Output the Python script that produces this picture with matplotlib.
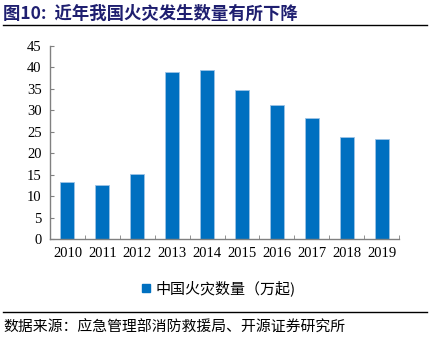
import matplotlib.pyplot as plt
import numpy as np
from matplotlib.lines import Line2D

plt.rcParams['font.family'] = ['Noto Sans CJK SC', 'DejaVu Sans']

years = ["2010", "2011", "2012", "2013", "2014", "2015", "2016", "2017", "2018", "2019"]
fires = [13.2, 12.5, 15.2, 38.9, 39.5, 34.7, 31.2, 28.1, 23.7, 23.3]
series_name = "中国火灾数量（万起)"
title = "图10:  近年我国火灾发生数量有所下降"
source = "数据来源：应急管理部消防救援局、开源证券研究所"

blue = "#0070C0"
gray = "#808080"

fig = plt.figure(figsize=(4.3, 3.38), dpi=100)
ax = fig.add_axes([50 / 430, 1 - 239 / 338, 349 / 430, 193 / 338])

x = np.arange(len(years))
ax.bar(x, fires, width=0.4, color=blue, edgecolor="#9DC3E6", linewidth=0.6, zorder=2)

ax.set_xlim(-0.5, len(years) - 0.5)
ax.set_ylim(0, 45)
ax.set_yticks(range(0, 46, 5))
ax.set_xticks(x)
ax.set_xticklabels(years)
ax.set_xticks(np.arange(-0.5, len(years), 1), minor=True)
ax.tick_params(axis="x", which="major", length=0, pad=6)
ax.tick_params(axis="x", which="minor", length=3, direction="in", color=gray)
ax.tick_params(axis="y", length=3, direction="in", color=gray, pad=6)
for lab in ax.get_xticklabels() + ax.get_yticklabels():
    lab.set_fontfamily("Liberation Serif")
    lab.set_fontsize(10.5)

for s in ["top", "right"]:
    ax.spines[s].set_visible(False)
for s in ["left", "bottom"]:
    ax.spines[s].set_color(gray)
    ax.spines[s].set_linewidth(1.0)

handle = Line2D([], [], marker="s", linestyle="none", color=blue, markersize=6)
fig.legend([handle], [series_name], loc="center", bbox_to_anchor=(217 / 430, 1 - 288 / 338),
           frameon=False, fontsize=10.8, handletextpad=0.1, handlelength=1.0)

fig.text(3 / 430, 1 - 14 / 338, title, fontsize=12.5, fontweight="bold", color="#1F1F70",
         ha="left", va="center")
fig.add_artist(Line2D([3 / 430, 427 / 430], [1 - 25 / 338, 1 - 25 / 338], color="black", linewidth=1))
fig.add_artist(Line2D([3 / 430, 427 / 430], [1 - 312 / 338, 1 - 312 / 338], color="black", linewidth=1))
fig.text(3 / 430, 1 - 327 / 338, source, fontsize=10.7, color="black", ha="left", va="center")

fig.savefig("out.png", dpi=100)
